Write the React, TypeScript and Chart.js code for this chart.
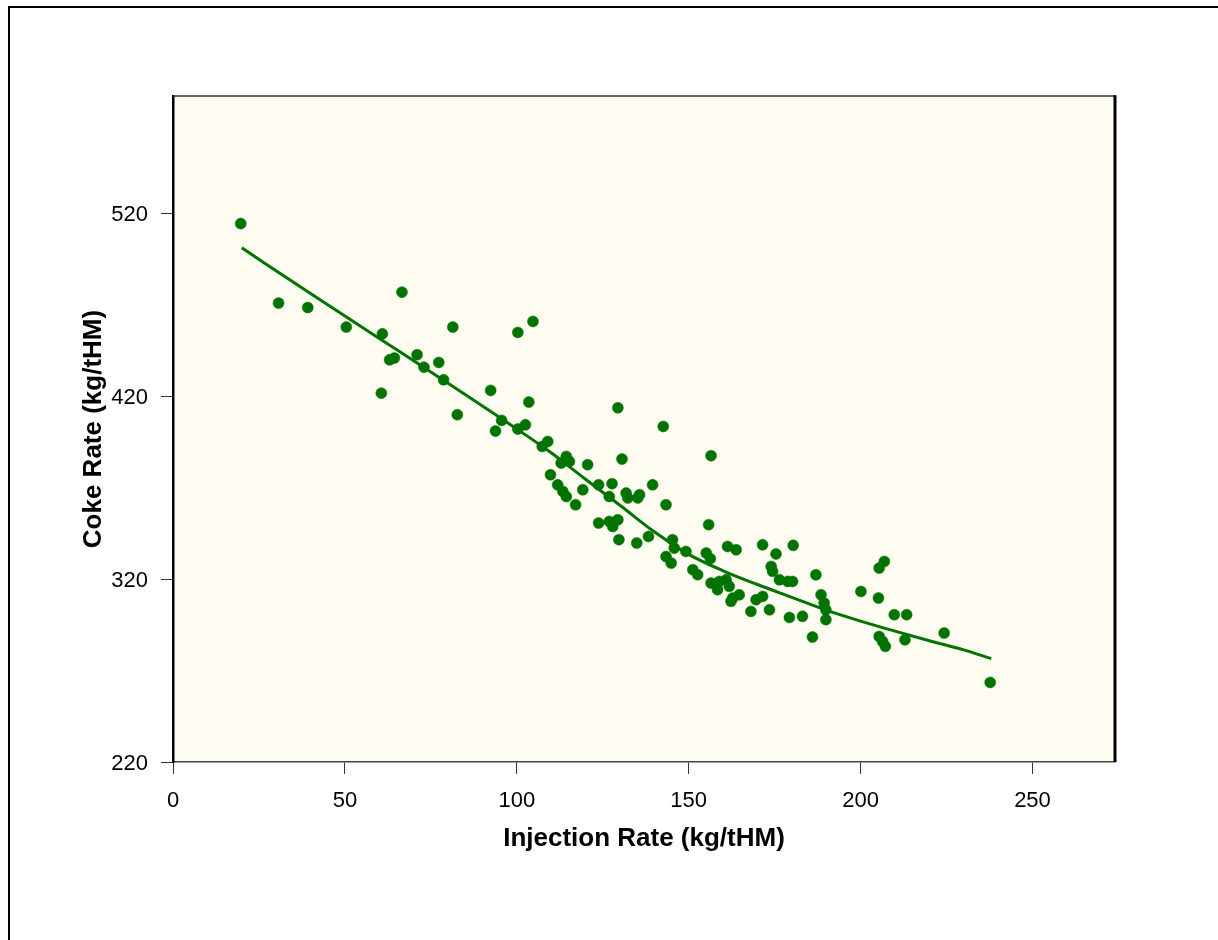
import React, { useEffect, useRef } from 'react';
import { Chart, registerables } from 'chart.js';

Chart.register(...registerables);

// ---- Data ----
const X_TICKS = [0, 50, 100, 150, 200, 250];
const Y_TICKS = [220, 320, 420, 520];
const X_MIN = 0;
const X_MAX = 274;
const Y_MIN = 220;
const Y_MAX = 584;

const X_TITLE = 'Injection Rate (kg/tHM)';
const Y_TITLE = 'Coke Rate (kg/tHM)';

// Observed points
const injectionRate = [
  19.7, 30.7, 39.2, 50.4, 66.6, 60.9, 63.0, 64.4, 60.6, 71.0,
  73.0, 77.3, 78.7, 81.4, 82.7, 92.4, 93.8, 95.6, 100.3, 104.7,
  103.5, 100.3, 102.5, 107.4, 109.0, 114.4, 112.9, 115.3, 109.8, 120.6,
  130.6, 156.5, 111.9, 113.4, 114.4, 117.1, 119.2, 123.8, 127.7, 126.9,
  131.8, 132.3, 135.2, 135.7, 139.5, 143.4, 123.8, 126.9, 129.4, 127.9,
  129.7, 134.9, 138.3, 145.3, 145.8, 143.4, 144.9, 149.2, 155.8, 155.1,
  156.3, 151.2, 152.6, 161.3, 163.8, 171.5, 180.4, 175.4, 174.0, 174.4,
  176.4, 178.8, 180.2, 187.0, 156.5, 158.9, 160.9, 161.8, 158.4, 162.8,
  164.7, 162.3, 169.6, 171.5, 168.1, 173.5, 179.3, 183.1, 188.5, 189.4,
  189.9, 189.9, 186.0, 200.1, 205.2, 205.4, 206.9, 209.8, 213.4, 205.4,
  206.4, 207.2, 212.9, 224.3, 237.7, 129.4, 142.6
];
const cokeRate = [
  514.3, 470.8, 468.4, 457.7, 476.8, 454.0, 439.8, 440.8, 421.6, 442.6,
  435.8, 438.4, 428.9, 457.7, 409.8, 423.1, 400.9, 406.7, 454.8, 460.8,
  416.7, 402.0, 404.3, 392.5, 395.2, 387.0, 383.4, 384.3, 377.0, 382.5,
  385.6, 387.4, 371.5, 367.9, 365.1, 360.6, 368.8, 371.5, 372.1, 365.1,
  367.0, 364.3, 364.3, 366.1, 371.5, 360.6, 350.6, 351.5, 352.4, 348.7,
  341.5, 339.7, 343.3, 341.5, 336.9, 332.3, 328.7, 335.1, 349.7, 334.2,
  331.1, 325.1, 322.4, 337.8, 336.0, 338.7, 338.4, 333.7, 326.9, 324.2,
  319.6, 318.7, 318.7, 322.3, 317.8, 318.7, 319.6, 316.0, 314.2, 309.6,
  311.4, 307.8, 308.7, 310.5, 302.3, 303.2, 299.0, 299.6, 311.4, 306.9,
  303.2, 297.8, 288.3, 313.2, 309.6, 326.0, 329.6, 300.5, 300.5, 288.6,
  285.9, 283.2, 286.8, 290.5, 263.5, 413.6, 403.4
];

// Fitted trend curve
const fitInjection = [20, 40, 60, 80, 100, 110, 120, 130, 140, 150, 160, 170, 180, 190, 200, 210, 220, 230, 238];
const fitCoke = [501, 476, 451.5, 427, 402, 389, 374.5, 360.3, 345.8, 333.5, 324.5, 317, 310, 303, 297, 291.5, 286.3, 281.3, 276.5];

const GREEN = '#007300';
const PLOT_BG = '#FEFCF0';
const FONT = 'Liberation Sans, Arial, sans-serif';

const framePlugin = {
  id: 'plotFrame',
  beforeDraw(chart: any) {
    const { ctx, chartArea } = chart;
    const { left, top, right, bottom } = chartArea;
    ctx.save();
    ctx.fillStyle = PLOT_BG;
    ctx.fillRect(left, top, right - left, bottom - top);
    ctx.restore();
  },
  afterDraw(chart: any) {
    const { ctx, chartArea } = chart;
    const { left, top, right, bottom } = chartArea;
    ctx.save();
    ctx.strokeStyle = '#333';
    ctx.lineWidth = 1.5;
    ctx.beginPath();
    ctx.moveTo(left, top);
    ctx.lineTo(right, top);
    ctx.stroke();
    ctx.strokeStyle = '#000';
    ctx.lineWidth = 3;
    ctx.beginPath();
    ctx.moveTo(right, top - 0.75);
    ctx.lineTo(right, bottom);
    ctx.stroke();
    ctx.restore();
  },
};

export default function App() {
  const canvasRef = useRef<HTMLCanvasElement | null>(null);

  useEffect(() => {
    const canvas = canvasRef.current;
    if (!canvas) return;
    const points = injectionRate.map((x, i) => ({ x, y: cokeRate[i] }));
    const curve = fitInjection.map((x, i) => ({ x, y: fitCoke[i] }));

    const chart = new Chart(canvas, {
      type: 'scatter',
      data: {
        datasets: [
          {
            label: 'Data',
            data: points,
            showLine: false,
            pointRadius: 5.5,
            pointBackgroundColor: GREEN,
            pointBorderColor: GREEN,
            pointBorderWidth: 0.5,
            pointStyle: 'circle',
          },
          {
            label: 'Fit',
            data: curve,
            showLine: true,
            borderColor: GREEN,
            borderWidth: 3,
            pointRadius: 0,
            cubicInterpolationMode: 'monotone',
            fill: false,
          },
        ],
      },
      options: {
        responsive: false,
        animation: false,
        devicePixelRatio: 1,
        layout: { padding: { top: 96, right: 103, bottom: 0, left: 0 } },
        plugins: {
          legend: { display: false },
          tooltip: { enabled: false },
        },
        scales: {
          x: {
            type: 'linear',
            min: X_MIN,
            max: X_MAX,
            afterBuildTicks: (scale: any) => {
              scale.ticks = X_TICKS.map((v) => ({ value: v }));
            },
            afterFit: (scale: any) => {
              scale.height = 178;
            },
            grid: {
              display: true,
              drawOnChartArea: false,
              drawTicks: true,
              tickLength: 12,
              color: '#333',
              lineWidth: 1,
            },
            border: { display: true, color: '#444', width: 1.5 },
            ticks: {
              padding: 14,
              color: '#000',
              font: { family: FONT, size: 22 },
              maxRotation: 0,
              autoSkip: false,
            },
            title: {
              display: true,
              text: X_TITLE,
              color: '#000',
              font: { family: FONT, size: 26, weight: 'bold' },
              padding: { top: 0, bottom: 86 },
            },
          },
          y: {
            type: 'linear',
            min: Y_MIN,
            max: Y_MAX,
            afterBuildTicks: (scale: any) => {
              scale.ticks = Y_TICKS.map((v) => ({ value: v }));
            },
            afterFit: (scale: any) => {
              scale.width = 173;
            },
            grid: {
              display: true,
              drawOnChartArea: false,
              drawTicks: true,
              tickLength: 12,
              color: '#333',
              lineWidth: 1,
            },
            border: { display: true, color: '#000', width: 2.5 },
            ticks: {
              padding: 13,
              labelOffset: 2,
              color: '#000',
              font: { family: FONT, size: 22 },
              autoSkip: false,
            },
            title: {
              display: true,
              text: Y_TITLE,
              color: '#000',
              font: { family: FONT, size: 26, weight: 'bold' },
              padding: { top: 78, bottom: 0 },
            },
          },
        },
      },
      plugins: [framePlugin],
    });

    return () => {
      chart.destroy();
    };
  }, []);

  return (
    <div
      style={{
        position: 'absolute',
        left: 0,
        top: 0,
        width: 1218,
        height: 940,
        overflow: 'hidden',
        background: '#fff',
      }}
    >
      <div
        style={{
          position: 'absolute',
          left: 8,
          top: 6,
          width: 1400,
          height: 1200,
          borderLeft: '2px solid #000',
          borderTop: '2px solid #000',
        }}
      />
      <canvas
        ref={canvasRef}
        width={1218}
        height={940}
        style={{ position: 'absolute', left: 0, top: 0, display: 'block' }}
      />
    </div>
  );
}
